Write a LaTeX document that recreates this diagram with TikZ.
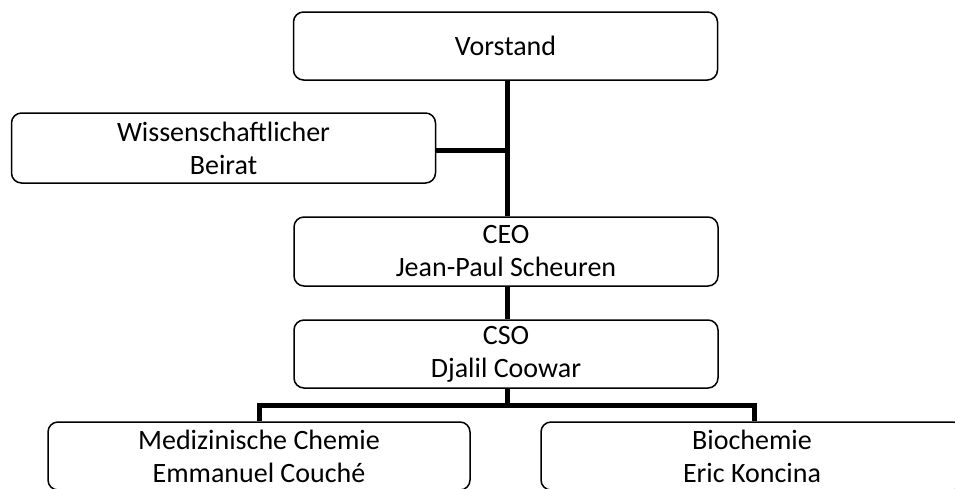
\documentclass[tikz,border=0pt]{standalone}
\usepackage{fontspec}
\setmainfont{Carlito}
\begin{document}
\begin{tikzpicture}[x=1pt,y=-1pt,
  orgbox/.style={draw=black,line width=1.5pt,rounded corners=10pt,fill=white,
    minimum width=424pt,minimum height=68pt,align=center,inner sep=0pt,
    font=\fontsize{28}{33}\selectfont},
  conn/.style={line width=5pt,draw=black}]
\useasboundingbox (0,0) rectangle (955,488);
\begin{scope}
\clip (0,0) rectangle (955,488);
\node[orgbox] (vor) at (505.5,46) {Vorstand};
\node[orgbox,minimum height=70pt] (bei) at (223.5,148) {Wissenschaftlicher\\Beirat};
\node[orgbox,minimum height=69pt] (ceo) at (506,251.5) {CEO\\Jean-Paul Scheuren};
\node[orgbox] (cso) at (506,354) {CSO\\Djalil Coowar};
\node[orgbox,minimum width=422pt] (med) at (259,456) {Medizinische Chemie\\Emmanuel Couché};
\node[orgbox,minimum width=422pt] (bio) at (752,456) {Biochemie\\Eric Koncina};
\coordinate (trunk) at (507,0);
\coordinate (jb) at (507,150);
\coordinate (barl) at (259.5,405.5);
\coordinate (barr) at (754.5,405.5);
\coordinate (barm) at (507,405.5);
\draw[conn] (vor.south -| trunk) -- (ceo.north -| trunk);
\draw[conn] (bei.east |- jb) -- (jb);
\draw[conn] (ceo.south -| trunk) -- (cso.north -| trunk);
\draw[conn] (cso.south -| trunk) -- (barm);
\draw[conn,line join=miter] (med.north -| barl) -- (barl) -- (barr) -- (bio.north -| barr);
\end{scope}
\end{tikzpicture}
\end{document}
